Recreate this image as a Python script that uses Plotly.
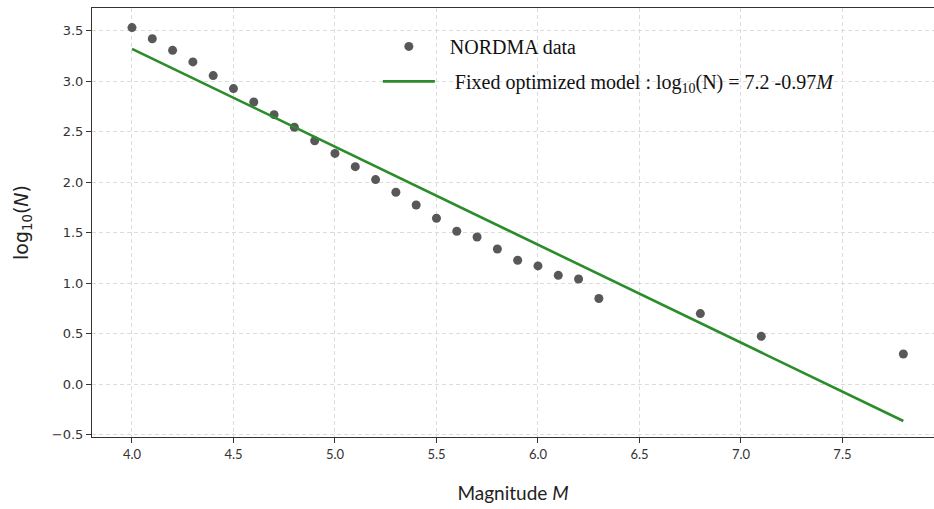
import plotly.graph_objects as go

# NORDMA data (magnitude vs log10 of cumulative number)
magnitude = [4.0, 4.1, 4.2, 4.3, 4.4, 4.5, 4.6, 4.7, 4.8, 4.9, 5.0, 5.1, 5.2, 5.3,
             5.4, 5.5, 5.6, 5.7, 5.8, 5.9, 6.0, 6.1, 6.2, 6.3, 6.8, 7.1, 7.8]
log_n = [3.53, 3.42, 3.305, 3.19, 3.055, 2.926, 2.793, 2.668, 2.543, 2.41, 2.284, 2.153,
         2.025, 1.90, 1.773, 1.642, 1.513, 1.456, 1.338, 1.226, 1.17, 1.077, 1.04,
         0.847, 0.698, 0.473, 0.298]

# Fixed optimized model endpoints: log10(N) = 7.2 - 0.97 M
model_m = [4.0, 7.8]
model_log_n = [3.32, -0.366]

x_ticks = [4.0, 4.5, 5.0, 5.5, 6.0, 6.5, 7.0, 7.5]
y_ticks = [-0.5, 0.0, 0.5, 1.0, 1.5, 2.0, 2.5, 3.0, 3.5]

NB = "\u00a0"

fig = go.Figure()
fig.add_trace(go.Scatter(
    x=magnitude, y=log_n, mode="markers", name=NB * 2 + "NORDMA data",
    marker=dict(color="#4f4f4f", size=9, opacity=0.95),
    legendgroup="a",
))
fig.add_trace(go.Scatter(
    x=model_m, y=model_log_n, mode="lines",
    name=NB * 3 + "Fixed optimized model : log<sub>10</sub>(N) = 7.2 -0.97<i>M</i>",
    line=dict(color="#2a8c2a", width=2.6),
    legendgroup="b",
))

axis_font = dict(family="DejaVu Sans", size=13, color="#333333")
fig.update_layout(
    width=934, height=509,
    margin=dict(l=92, r=0, t=8, b=72),
    paper_bgcolor="white", plot_bgcolor="white",
    showlegend=True,
    legend=dict(
        x=0.3395, y=0.956, xanchor="left", yanchor="top",
        bgcolor="rgba(0,0,0,0)",
        font=dict(family="Liberation Serif", size=20, color="#111111"),
        tracegroupgap=6, itemwidth=52,
    ),
    xaxis=dict(
        range=[3.803, 7.951], tickvals=x_ticks,
        ticktext=[f"{v:.1f}" for v in x_ticks],
        showline=True, linecolor="#333333", linewidth=1, mirror=True,
        ticks="outside", ticklen=5, tickcolor="#333333",
        tickfont=dict(family="Lato", size=13, color="#333333"),
        showgrid=True, gridcolor="#dcdcdc", griddash="4px,3px", gridwidth=1,
        zeroline=False, automargin=False,
        title=dict(text="Magnitude <i>M</i>", font=dict(family="Lato", size=19, color="#222222"), standoff=26),
    ),
    yaxis=dict(
        range=[-0.524, 3.724], tickvals=y_ticks,
        ticktext=[("\u2212" if v < 0 else "") + f"{abs(v):.1f}" for v in y_ticks],
        showline=True, linecolor="#333333", linewidth=1, mirror=False,
        ticks="outside", ticklen=5, tickcolor="#333333",
        tickfont=axis_font,
        showgrid=True, gridcolor="#dcdcdc", griddash="4px,3px", gridwidth=1,
        zeroline=False, automargin=False,
        title=dict(text="log<sub>10</sub>(<i>N</i>)", font=dict(family="DejaVu Sans", size=19, color="#222222"), standoff=18),
    ),
)

# remove the default page margin so the 934x509 figure fills the window exactly
fig.write_html("out.html",
               config={"displayModeBar": False},
               post_script="document.body.style.margin='0';document.body.style.overflow='hidden';")
